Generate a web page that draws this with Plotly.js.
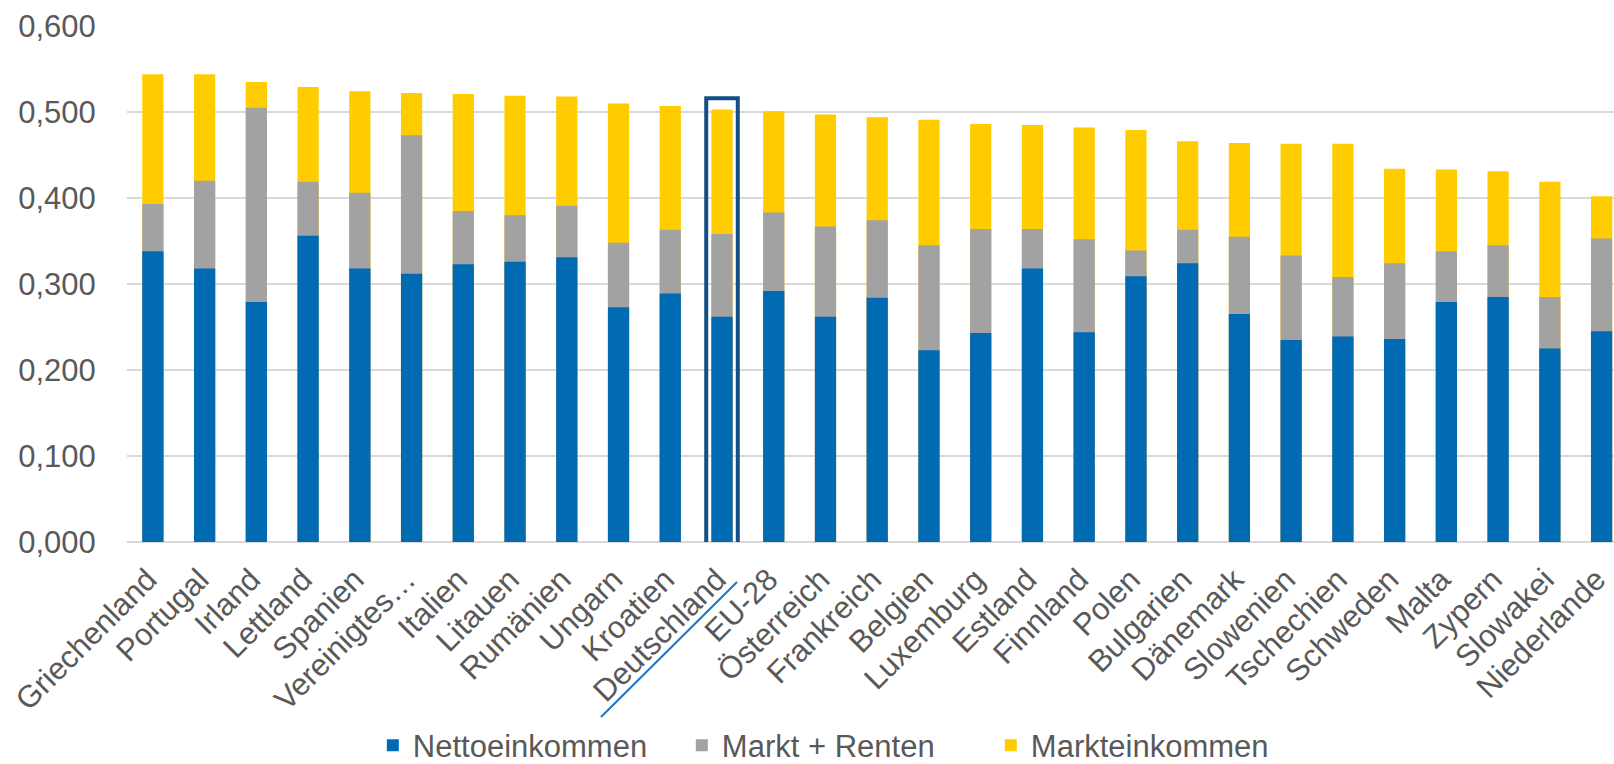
<!DOCTYPE html>
<html>
<head>
<meta charset="utf-8">
<script src="https://cdn.plot.ly/plotly-3.0.1.min.js"></script>
<style>html,body{margin:0;padding:0;background:#fff;}#chart{width:1614px;height:764px;}</style>
</head>
<body>
<div id="chart"></div>
<script>
const countries = ["Griechenland","Portugal","Irland","Lettland","Spanien","Vereinigtes…","Italien","Litauen","Rumänien","Ungarn","Kroatien","Deutschland","EU-28","Österreich","Frankreich","Belgien","Luxemburg","Estland","Finnland","Polen","Bulgarien","Dänemark","Slowenien","Tschechien","Schweden","Malta","Zypern","Slowakei","Niederlande"];
const nettoeinkommen = [0.338,0.318,0.279,0.356,0.318,0.312,0.323,0.326,0.331,0.273,0.289,0.262,0.292,0.262,0.284,0.223,0.243,0.318,0.244,0.309,0.324,0.265,0.235,0.239,0.236,0.279,0.285,0.225,0.245];
const marktRenten = [0.393,0.420,0.505,0.419,0.406,0.473,0.385,0.380,0.391,0.348,0.363,0.358,0.383,0.367,0.374,0.345,0.364,0.364,0.352,0.339,0.363,0.355,0.333,0.308,0.324,0.338,0.345,0.285,0.353];
const markteinkommen = [0.544,0.544,0.535,0.529,0.524,0.522,0.521,0.519,0.518,0.510,0.507,0.503,0.501,0.497,0.494,0.491,0.486,0.485,0.482,0.479,0.466,0.464,0.463,0.463,0.434,0.433,0.431,0.419,0.402];
const yTicks = [0, 0.1, 0.2, 0.3, 0.4, 0.5, 0.6];
const highlight = "Deutschland";

const hi = countries.indexOf(highlight);
const txt = '#595959';
const fnt = {family: 'Liberation Sans, Arial, sans-serif', size: 31, color: txt};
const xr = [-0.5, countries.length - 0.76];
const hiPaper = (hi - xr[0]) / (xr[1] - xr[0]);

const traces = [
  {type: 'bar', name: 'Markteinkommen', x: countries, y: markteinkommen, marker: {color: '#ffcc00', line: {width: 0}}},
  {type: 'bar', name: 'Markt + Renten', x: countries, y: marktRenten, marker: {color: '#a2a2a2', line: {width: 0}}},
  {type: 'bar', name: 'Nettoeinkommen', x: countries, y: nettoeinkommen, marker: {color: '#006ab3', line: {width: 0}}}
];

const layout = {
  width: 1614, height: 764,
  margin: {l: 127, r: 0, t: 26, b: 222},
  barmode: 'overlay',
  bargap: 0.59,
  separators: ',.',
  paper_bgcolor: '#fff', plot_bgcolor: '#fff',
  font: fnt,
  hovermode: false,
  showlegend: true,
  legend: {
    orientation: 'h', traceorder: 'reversed',
    xref: 'container', x: 0.231, xanchor: 'left',
    yref: 'container', y: 0.024, yanchor: 'middle',
    entrywidth: 264, entrywidthmode: 'pixels',
    font: fnt, itemclick: false
  },
  xaxis: {
    type: 'category',
    range: xr,
    tickangle: -45,
    tickfont: fnt,
    ticks: 'outside', ticklen: 6, tickcolor: 'rgba(0,0,0,0)',
    ticklabelshift: -5,
    showgrid: false, showline: false, zeroline: false,
    automargin: false, fixedrange: true
  },
  yaxis: {
    range: [0, 0.6],
    tickvals: yTicks,
    tickformat: '.3f',
    tickfont: fnt,
    ticks: 'outside', ticklen: 24, tickcolor: 'rgba(0,0,0,0)',
    showgrid: true, gridcolor: '#d9d9d9', gridwidth: 1.5,
    zeroline: true, zerolinecolor: '#d9d9d9', zerolinewidth: 1.5,
    showline: false, automargin: false, fixedrange: true
  },
  shapes: [
    {type: 'rect', xref: 'x', yref: 'y', x0: hi - 0.305, x1: hi + 0.305, y0: -0.005, y1: markteinkommen[hi] + 0.013,
     line: {color: '#134f86', width: 4}, fillcolor: 'rgba(0,0,0,0)'},
    {type: 'line', xref: 'paper', yref: 'paper', xsizemode: 'pixel', ysizemode: 'pixel', xanchor: hiPaper, yanchor: 0,
     x0: -121, x1: 15, y0: -175, y1: -40, line: {color: '#1a75c8', width: 2}}
  ]
};

Plotly.newPlot('chart', traces, layout, {displayModeBar: false, staticPlot: true});
</script>
</body>
</html>
